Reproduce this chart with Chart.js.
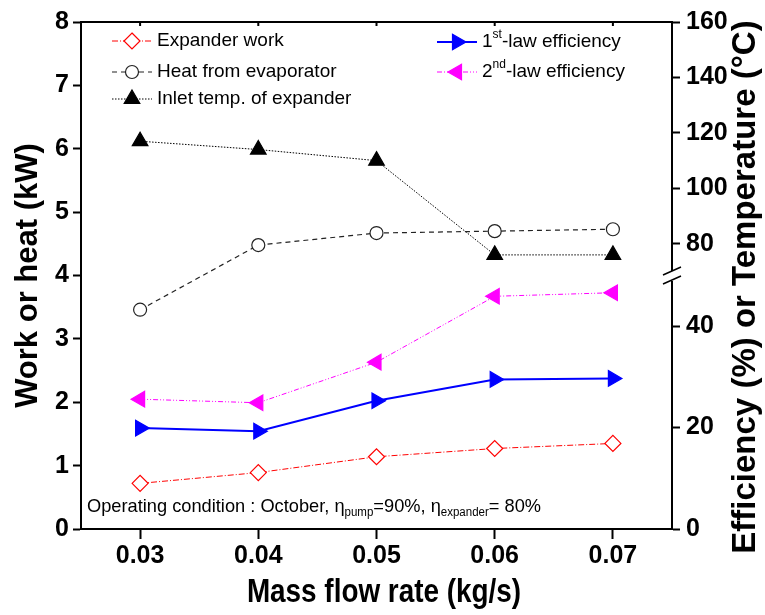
<!DOCTYPE html>
<html>
<head>
<meta charset="utf-8">
<script src="https://cdn.jsdelivr.net/npm/chart.js@4.4.1/dist/chart.umd.min.js"></script>
<style>
  html, body { margin: 0; padding: 0; background: #fff; }
</style>
</head>
<body>
<canvas id="chart" width="765" height="615"></canvas>
<script>
const massFlow = [0.03, 0.04, 0.05, 0.06, 0.07];          // kg/s
const expanderWork = [0.72, 0.89, 1.14, 1.27, 1.35];       // kW
const heatEvap = [3.46, 4.48, 4.67, 4.70, 4.73];           // kW
const inletTemp = [117, 114, 110, 76, 76];                 // °C
const firstLawEff = [19.9, 19.3, 25.3, 29.5, 29.7];        // %
const secondLawEff = [25.6, 24.9, 32.9, 45.9, 46.6];       // %

const xTicks = [0.03, 0.04, 0.05, 0.06, 0.07];
const leftTicks = [0, 1, 2, 3, 4, 5, 6, 7, 8];
const rightTicks = [0, 20, 40, 80, 100, 120, 140, 160];

// the right axis is broken: 0-40 % below the break, 80-160 °C above it.
// everything is plotted on the left (kW) scale.
const effPerKW = 12.5;
const tempToKW = t => 4.5 + (t - 80) * 3.5 / 80;
const rightToKW = v => (v <= 60 ? v / effPerKW : tempToKW(v));

const FONT = '"Liberation Sans Narrow", "Arial Narrow", "Liberation Sans", Arial, sans-serif';
Chart.defaults.font.family = FONT;
Chart.defaults.color = '#000';

const pts = (ys, f) => massFlow.map((x, i) => ({ x: x, y: f ? f(ys[i]) : ys[i] }));

const series = [
  { label: 'Expander work', data: pts(expanderWork), color: '#ff0000', width: 1, dash: [6, 2, 1, 2],
    style: 'rectRot', radius: 8, fill: '#fff', rot: 0 },
  { label: 'Heat from evaporator', data: pts(heatEvap), color: '#222', width: 1.2, dash: [5, 4],
    style: 'circle', radius: 6.5, fill: '#fff', rot: 0 },
  { label: 'Inlet temp. of expander', data: pts(inletTemp, tempToKW), color: '#000', width: 1, dash: [1.5, 1.5],
    style: 'triangle', radius: 9, fill: '#000', rot: 0 },
  { label: '1st-law efficiency', data: pts(firstLawEff, v => v / effPerKW), color: '#0000ff', width: 2, dash: [],
    style: 'triangle', radius: 9, fill: '#0000ff', rot: 90 },
  { label: '2nd-law efficiency', data: pts(secondLawEff, v => v / effPerKW), color: '#ff00ff', width: 1, dash: [5, 2, 1, 2, 1, 2],
    style: 'triangle', radius: 9, fill: '#ff00ff', rot: -90 }
];

function marker(ctx, s, x, y) {
  const r = s.radius;
  ctx.save();
  ctx.setLineDash([]);
  ctx.lineWidth = 1.2;
  ctx.strokeStyle = s.color;
  ctx.fillStyle = s.fill;
  ctx.beginPath();
  if (s.style === 'circle') {
    ctx.arc(x, y, r, 0, Math.PI * 2);
  } else if (s.style === 'rectRot') {
    ctx.moveTo(x, y - r); ctx.lineTo(x + r, y); ctx.lineTo(x, y + r); ctx.lineTo(x - r, y);
  } else {
    let a = s.rot * Math.PI / 180;
    for (let k = 0; k < 3; k++) {
      const px = x + Math.sin(a) * r, py = y - Math.cos(a) * r;
      k ? ctx.lineTo(px, py) : ctx.moveTo(px, py);
      a += 2 * Math.PI / 3;
    }
  }
  ctx.closePath();
  ctx.fill();
  ctx.stroke();
  ctx.restore();
}

// text pieces: [string, 'n' | 'sup' | 'sub']
function richText(ctx, x, y, parts, size) {
  parts.forEach(([t, kind]) => {
    const fs = kind === 'n' ? size : Math.round(size * 0.62);
    const dy = kind === 'sup' ? -size * 0.38 : kind === 'sub' ? size * 0.3 : 0;
    ctx.font = fs + 'px ' + FONT;
    ctx.fillText(t, x, y + dy);
    x += ctx.measureText(t).width;
  });
}

const extras = {
  id: 'extras',
  afterDraw(chart) {
    const ctx = chart.ctx;
    const a = chart.chartArea;
    const xs = chart.scales.x;
    ctx.save();
    ctx.fillStyle = '#000';
    ctx.strokeStyle = '#000';

    // top frame with small inward ticks
    ctx.lineWidth = 2;
    ctx.beginPath();
    ctx.moveTo(a.left - 1, a.top); ctx.lineTo(a.right + 1, a.top);
    xTicks.forEach(v => {
      const px = xs.getPixelForValue(v);
      ctx.moveTo(px, a.top); ctx.lineTo(px, a.top + 4);
    });
    ctx.stroke();

    // break on the right axis
    const yb = 276;
    ctx.fillStyle = '#fff';
    ctx.fillRect(a.right - 3, yb - 5, 6, 10);
    ctx.lineWidth = 1.5;
    ctx.beginPath();
    ctx.moveTo(a.right - 9, yb - 1); ctx.lineTo(a.right + 9, yb - 9);
    ctx.moveTo(a.right - 9, yb + 8); ctx.lineTo(a.right + 9, yb);
    ctx.stroke();

    // legend
    ctx.fillStyle = '#000';
    ctx.textBaseline = 'middle';
    const rows = [
      [0, 112, 41, [['Expander work', 'n']]],
      [1, 112, 72, [['Heat from evaporator', 'n']]],
      [2, 112, 99, [['Inlet temp. of expander', 'n']]],
      [3, 437, 42, [['1', 'n'], ['st', 'sup'], ['-law efficiency', 'n']]],
      [4, 437, 72, [['2', 'n'], ['nd', 'sup'], ['-law efficiency', 'n']]]
    ];
    rows.forEach(([i, x0, y, parts]) => {
      const s = series[i];
      ctx.save();
      ctx.strokeStyle = s.color;
      ctx.lineWidth = s.width;
      ctx.setLineDash(s.dash);
      ctx.beginPath();
      ctx.moveTo(x0, y); ctx.lineTo(x0 + 40, y);
      ctx.stroke();
      ctx.restore();
      marker(ctx, s, x0 + 20, y);
      ctx.fillStyle = '#000';
      richText(ctx, x0 + 45, y, parts, 19);
    });

    // operating condition note (slightly condensed)
    ctx.save();
    ctx.translate(87, 507);
    ctx.scale(0.96, 1);
    richText(ctx, 0, 0, [['Operating condition : October, ', 'n'], ['\u03b7', 'n'], ['pump', 'sub'],
      ['=90%, ', 'n'], ['\u03b7', 'n'], ['expander', 'sub'], ['= 80%', 'n']], 19);
    ctx.restore();

    // x axis title (condensed bold)
    ctx.save();
    ctx.translate(384, 593);
    ctx.scale(0.82, 1);
    ctx.textAlign = 'center';
    ctx.font = 'bold 34px ' + FONT;
    ctx.fillText('Mass flow rate (kg/s)', 0, 0);
    ctx.restore();

    // right axis title, reading bottom to top
    ctx.translate(746, 287);
    ctx.rotate(-Math.PI / 2);
    ctx.textAlign = 'center';
    ctx.font = 'bold 33px ' + FONT;
    ctx.fillText('Efficiency (%) or Temperature (\u00b0C)', 0, 0);
    ctx.restore();
  }
};

const tickFont = { size: 25, weight: 'bold' };
const titleFont = { size: 31, weight: 'bold' };

new Chart(document.getElementById('chart'), {
  type: 'line',
  data: {
    datasets: series.map(s => ({
      label: s.label,
      data: s.data,
      yAxisID: 'y',
      borderColor: s.color,
      borderWidth: s.width,
      borderDash: s.dash,
      pointStyle: s.style,
      pointRadius: s.radius,
      pointRotation: s.rot,
      pointBorderColor: s.color,
      pointBackgroundColor: s.fill,
      pointBorderWidth: 1.2,
      tension: 0,
      fill: false
    }))
  },
  options: {
    responsive: false,
    animation: false,
    devicePixelRatio: 1,
    layout: { padding: { top: 22, left: 0, right: 0, bottom: 0 } },
    plugins: { legend: { display: false }, tooltip: { enabled: false } },
    scales: {
      x: {
        type: 'linear', position: 'bottom', min: 0.025, max: 0.075,
        afterBuildTicks: s => { s.ticks = xTicks.map(v => ({ value: v })); },
        afterFit: s => { s.height = 86; },
        ticks: { callback: v => v.toFixed(2), font: tickFont, padding: 2, autoSkip: false, maxRotation: 0 },
        grid: { drawOnChartArea: false, tickLength: 10, tickWidth: 2, tickColor: '#000' },
        border: { color: '#000', width: 2 },
        title: { display: false }
      },
      y: {
        position: 'left', min: 0, max: 8,
        afterBuildTicks: s => { s.ticks = leftTicks.map(v => ({ value: v })); },
        afterFit: s => { s.width = 81; },
        ticks: { font: tickFont, padding: 4, autoSkip: false },
        grid: { drawOnChartArea: false, tickLength: 8, tickWidth: 2, tickColor: '#000' },
        border: { color: '#000', width: 2 },
        title: { display: true, text: 'Work or heat (kW)', font: titleFont, padding: { top: 10, bottom: 0 } }
      },
      y2: {
        position: 'right', min: 0, max: 8,
        afterBuildTicks: s => { s.ticks = rightTicks.map(v => ({ value: rightToKW(v) })); },
        afterFit: s => { s.width = 93; },
        ticks: { font: tickFont, padding: 6, autoSkip: false, callback: (v, i) => rightTicks[i] },
        grid: { drawOnChartArea: false, tickLength: 8, tickWidth: 2, tickColor: '#000' },
        border: { color: '#000', width: 2 }
      }
    }
  },
  plugins: [extras]
});
</script>
</body>
</html>
